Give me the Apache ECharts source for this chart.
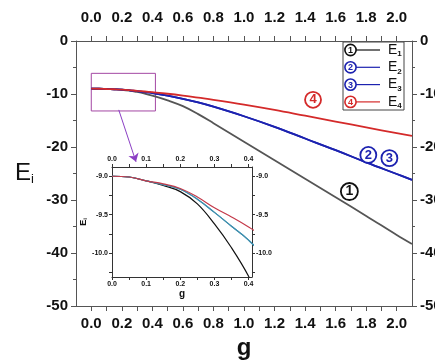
<!DOCTYPE html>
<html>
<head>
<meta charset="utf-8">
<script src="https://cdn.jsdelivr.net/npm/echarts@6/dist/echarts.min.js"></script>
<style>
  html, body { margin: 0; padding: 0; background: #fff; }
  #chart { width: 435px; height: 363px; }
</style>
</head>
<body>
<div id="chart"></div>
<script>
// Coupling strength g and the four energy levels E1..E4
const g  = [0, 0.05, 0.1, 0.15, 0.2, 0.25, 0.3, 0.35, 0.4, 0.5, 0.6, 0.7, 0.8, 1.0, 1.2, 1.4, 1.6, 1.8, 2.0, 2.1];
const E1 = [-9, -9.01, -9.06, -9.12, -9.2, -9.36, -9.62, -9.93, -10.3, -11.2, -12.3, -13.8, -15.5, -19.0, -22.5, -26.0, -29.5, -33.0, -36.6, -38.3];
const E2 = [-9, -9.01, -9.06, -9.11, -9.17, -9.3, -9.47, -9.65, -9.83, -10.3, -10.9, -11.6, -12.4, -14.2, -16.2, -18.4, -20.6, -22.9, -25.1, -26.2];
const E3 = [-9, -9.01, -9.06, -9.11, -9.17, -9.3, -9.47, -9.65, -9.83, -10.3, -10.9, -11.6, -12.4, -14.2, -16.2, -18.4, -20.6, -22.9, -25.1, -26.2];
const E4 = [-9, -9.01, -9.06, -9.1, -9.16, -9.27, -9.41, -9.53, -9.66, -9.95, -10.3, -10.7, -11.1, -12.0, -13.0, -14.1, -15.2, -16.3, -17.4, -17.9];

// Tick positions and labels
const mainXLabels  = [0.0, 0.2, 0.4, 0.6, 0.8, 1.0, 1.2, 1.4, 1.6, 1.8, 2.0];
const mainXTicks   = [0.0, 0.1, 0.2, 0.3, 0.4, 0.5, 0.6, 0.7, 0.8, 0.9, 1.0, 1.1, 1.2, 1.3, 1.4, 1.5, 1.6, 1.7, 1.8, 1.9, 2.0];
const insetXLabels = [0.0, 0.1, 0.2, 0.3, 0.4];
const insetXTicks  = [0.0, 0.05, 0.1, 0.15, 0.2, 0.25, 0.3, 0.35, 0.4];
const insetYLabels = [-9.0, -9.5, -10.0];
const insetYTicks  = [-9.0, -9.25, -9.5, -9.75, -10.0, -10.25];

// Level indices shown as circled numbers
const levelNames = ['1', '2', '3', '4'];

const pairs = ys => g.map((x, i) => [x, ys[i]]);

const FONT = '"Liberation Sans", Arial, sans-serif';
const AXIS = '#555';
const GRAY = '#555';
const BLUE = '#1c22b0';
const RED = '#d42a2a';
const TEAL = '#3f8fae';

function mainX(pos, extra) {
  return Object.assign({
    type: 'value', gridIndex: 0, position: pos, min: -0.1, max: 2.1,
    axisLine: { onZero: false, lineStyle: { color: AXIS, width: 1 } },
    axisTick: { inside: false, length: 5, customValues: mainXTicks, lineStyle: { color: AXIS } },
    axisLabel: { customValues: mainXLabels, formatter: v => v.toFixed(1),
      margin: pos === 'top' ? 16 : 10, fontSize: 15, fontWeight: 'bold', color: '#111', fontFamily: FONT },
    splitLine: { show: false }
  }, extra || {});
}
function mainY(pos, extra) {
  return Object.assign({
    type: 'value', gridIndex: 0, position: pos, min: -50, max: 0, interval: 10,
    axisLine: { onZero: false, lineStyle: { color: AXIS, width: 1 } },
    axisTick: { inside: false, length: 5, lineStyle: { color: AXIS } },
    minorTick: { show: true, splitNumber: 2, length: 3, lineStyle: { color: AXIS } },
    axisLabel: { margin: 8, fontSize: 15, fontWeight: 'bold', color: '#111', fontFamily: FONT },
    splitLine: { show: false }
  }, extra || {});
}
function insetX(pos, extra) {
  return Object.assign({
    type: 'value', gridIndex: 1, position: pos, min: 0, max: 0.41, zlevel: 1,
    axisLine: { onZero: false, lineStyle: { color: '#333', width: 1 } },
    axisTick: { inside: false, length: 3, customValues: insetXTicks, lineStyle: { color: '#333' } },
    axisLabel: { customValues: insetXLabels, formatter: v => v.toFixed(1),
      margin: 4, fontSize: 7, fontWeight: 'bold', color: '#111', fontFamily: FONT },
    splitLine: { show: false }
  }, extra || {});
}
function insetY(pos, extra) {
  return Object.assign({
    type: 'value', gridIndex: 1, position: pos, min: -10.31, max: -8.88, zlevel: 1,
    axisLine: { onZero: false, lineStyle: { color: '#333', width: 1 } },
    axisTick: { inside: false, length: 3, customValues: insetYTicks, lineStyle: { color: '#333' } },
    axisLabel: { customValues: insetYLabels, formatter: v => v.toFixed(1),
      margin: 4, fontSize: 7, fontWeight: 'bold', color: '#111', fontFamily: FONT },
    splitLine: { show: false }
  }, extra || {});
}

// Circled level number placed at a data coordinate
function tag(text, color, at, size) {
  const d = size || 15;
  return {
    symbol: 'circle', symbolSize: d, silent: true,
    itemStyle: { color: '#fff', borderColor: color, borderWidth: 1.8 },
    label: { show: true, position: 'inside', formatter: text, color: color,
      fontFamily: FONT, fontWeight: 'bold', fontSize: Math.round(d * 0.8) },
    data: at.map(c => ({ coord: c }))
  };
}

function mainLine(name, ys, color, extra) {
  return Object.assign({
    name: name, type: 'line', xAxisIndex: 0, yAxisIndex: 0, data: pairs(ys),
    showSymbol: false, smooth: 0.4, lineStyle: { color: color, width: 1.8 }, itemStyle: { color: color }
  }, extra || {});
}
function insetLine(ys, color) {
  return {
    type: 'line', xAxisIndex: 2, yAxisIndex: 2, data: pairs(ys), zlevel: 1, z: 3,
    showSymbol: false, smooth: 0.4, lineStyle: { color: color, width: 1.2 }, itemStyle: { color: color }
  };
}

// Legend drawn as a boxed list: circled number, line sample, E with subscript
const legendColors = ['#111', BLUE, BLUE, RED];
const legendRows = [];
levelNames.forEach((n, i) => {
  const cy = 8 + i * 17.3;
  legendRows.push({ type: 'circle', shape: { cx: 7.5, cy: cy, r: 5.6 },
    style: { fill: '#fff', stroke: legendColors[i], lineWidth: 1.6 } });
  legendRows.push({ type: 'text', x: 7.5, y: cy + 0.5,
    style: { text: n, fill: legendColors[i], font: 'bold 9px ' + FONT, align: 'center', verticalAlign: 'middle' } });
  legendRows.push({ type: 'line', shape: { x1: 13, y1: cy, x2: 37, y2: cy },
    style: { stroke: legendColors[i], lineWidth: 1.2 } });
  legendRows.push({ type: 'text', x: 45, y: cy,
    style: { text: '{e|E}{s|' + n + '}', verticalAlign: 'middle',
      rich: { e: { fontSize: 14, fontFamily: FONT, fill: '#111', verticalAlign: 'middle' },
              s: { fontSize: 8, fontFamily: FONT, fontWeight: 'bold', fill: '#111', padding: [8, 0, 0, 0] } } } });
});

const option = {
  animation: false,
  backgroundColor: '#fff',
  grid: [
    { left: 76, top: 41, width: 336, height: 265, containLabel: false, outerBoundsMode: 'none' },
    { left: 112, top: 167, width: 140, height: 110, show: true, backgroundColor: '#fff', borderWidth: 0,
      zlevel: 1, containLabel: false, outerBoundsMode: 'none' }
  ],
  xAxis: [
    mainX('bottom', { name: 'g', nameLocation: 'middle', nameGap: 30,
      nameTextStyle: { fontSize: 24, fontWeight: 'bold', color: '#111', fontFamily: FONT } }),
    mainX('top'),
    insetX('bottom', { name: 'g', nameLocation: 'middle', nameGap: 12,
      nameTextStyle: { fontSize: 10, fontWeight: 'bold', color: '#111', fontFamily: FONT } }),
    insetX('top')
  ],
  yAxis: [
    mainY('left', { name: '{e|E}{s|i}', nameLocation: 'middle', nameRotate: 0, nameGap: 42,
      nameTextStyle: { rich: { e: { fontSize: 24, fontFamily: FONT, color: '#111' },
                               s: { fontSize: 13, fontFamily: FONT, color: '#111', padding: [12, 0, 0, 0] } } } }),
    mainY('right'),
    insetY('left', { name: '{e|E}{s|i}', nameLocation: 'middle', nameGap: 22,
      nameTextStyle: { rich: { e: { fontSize: 9, fontWeight: 'bold', fontFamily: FONT, color: '#111' },
                               s: { fontSize: 6, fontWeight: 'bold', fontFamily: FONT, color: '#111', padding: [4, 0, 0, 0] } } } }),
    insetY('right')
  ],
  series: [
    mainLine('E1', E1, GRAY, {
      markPoint: tag(levelNames[0], '#111', [[1.69, -28.4]], 17),
      markArea: { silent: true, itemStyle: { color: 'rgba(0,0,0,0)', borderColor: '#a347a3', borderWidth: 1 },
        data: [[{ coord: [0, -6.1] }, { coord: [0.42, -13.2] }]] },
      markLine: { silent: true, symbol: ['none', 'arrow'], symbolSize: 8,
        lineStyle: { color: '#8b3fc4', width: 1, type: 'solid' }, label: { show: false },
        data: [[{ coord: [0.18, -13.0] }, { coord: [0.293, -22.8] }]] }
    }),
    mainLine('E2', E2, BLUE, { markPoint: tag(levelNames[1], BLUE, [[1.814, -21.5]], 16) }),
    mainLine('E3', E3, BLUE, { markPoint: tag(levelNames[2], BLUE, [[1.952, -22.1]], 16) }),
    mainLine('E4', E4, RED, { markPoint: tag(levelNames[3], RED, [[1.452, -11.1]], 16) }),
    insetLine(E1, '#111'),
    insetLine(E2, TEAL),
    insetLine(E3, TEAL),
    insetLine(E4, '#c43a4a')
  ],
  graphic: [{ type: 'group', x: 343, y: 42, z: 100, children: [
    { type: 'rect', shape: { x: 0, y: 0, width: 61, height: 68 }, style: { fill: '#fff', stroke: '#444', lineWidth: 1 } }
  ].concat(legendRows) }]
};

const chart = echarts.init(document.getElementById('chart'), null, { renderer: 'canvas' });
chart.setOption(option);
</script>
</body>
</html>
